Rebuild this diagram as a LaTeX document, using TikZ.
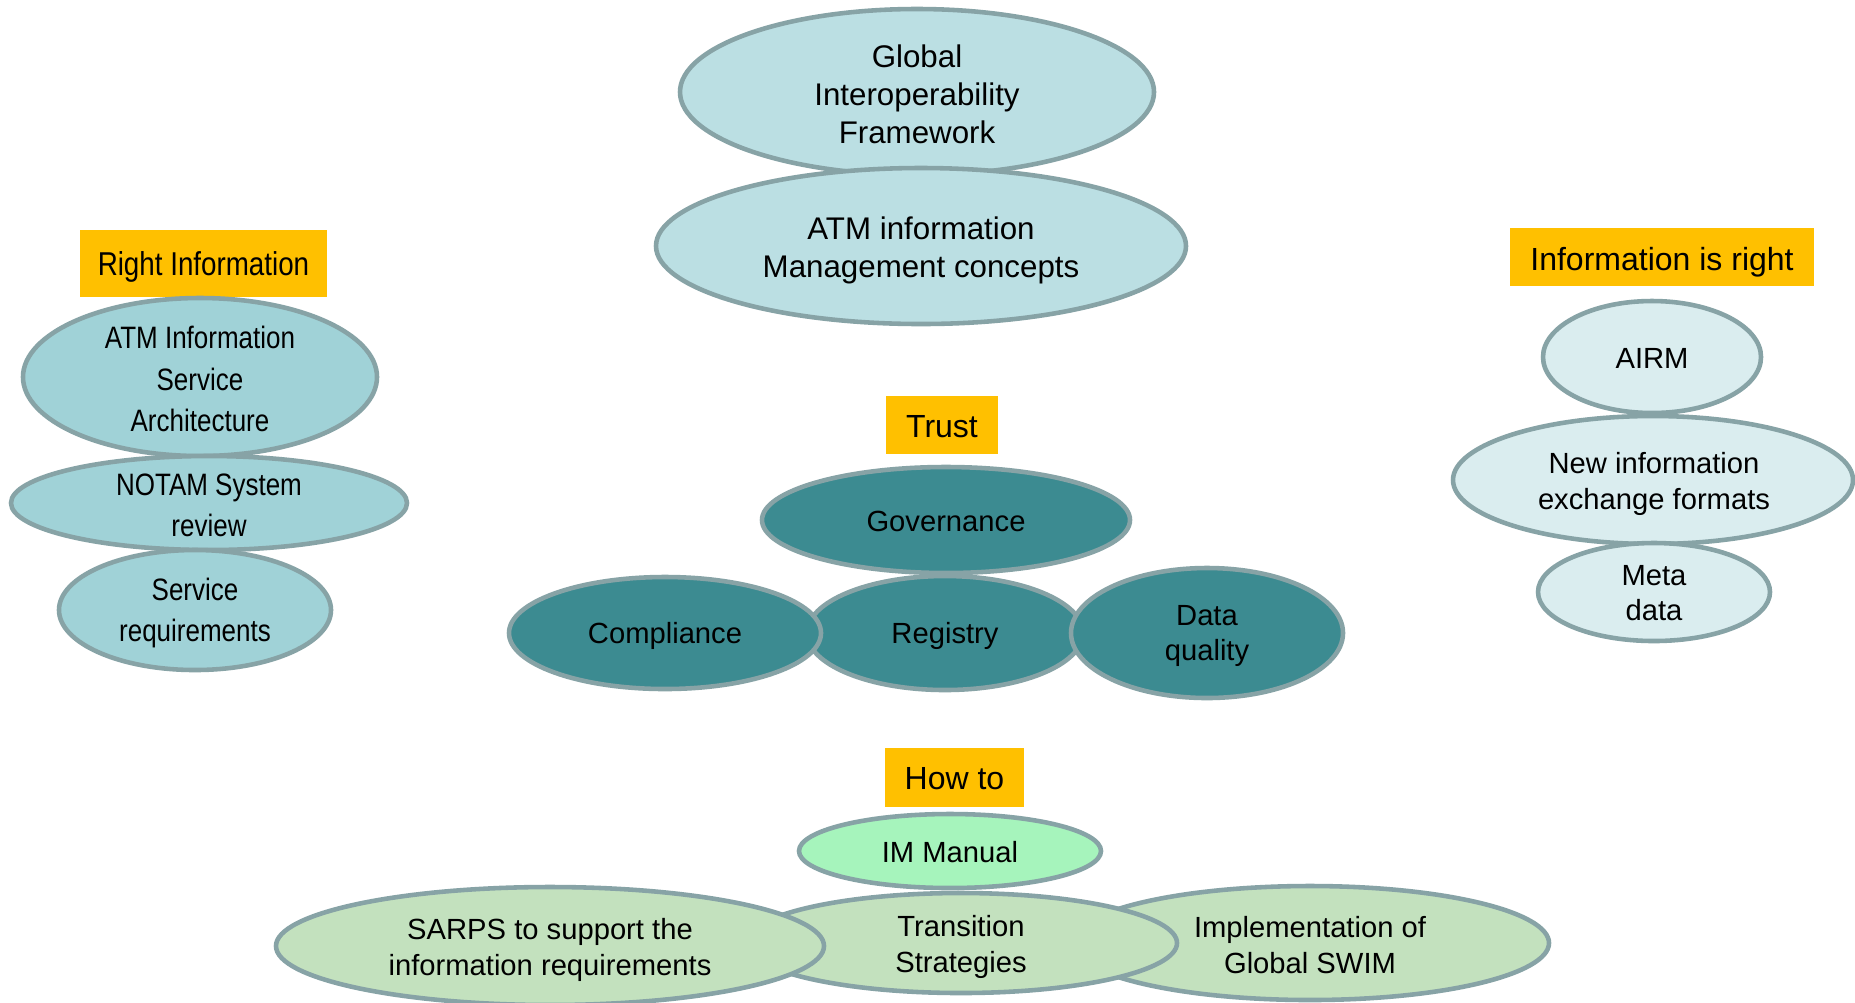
\documentclass[tikz,border=0pt]{standalone}
\usepackage{fontspec}
\setmainfont{Liberation Sans}
\newfontfamily\narrowfont[FakeStretch=0.84]{Liberation Sans}
\usetikzlibrary{shapes.geometric}
\definecolor{edgegray}{HTML}{87A3A6}
\definecolor{topfill}{HTML}{BBDFE3}
\definecolor{leftfill}{HTML}{A0D2D7}
\definecolor{darkteal}{HTML}{3C8B91}
\definecolor{rightfill}{HTML}{DAEDEF}
\definecolor{mintfill}{HTML}{A6F4BC}
\definecolor{greenfill}{HTML}{C3E1BE}
\definecolor{tagorange}{HTML}{FFC000}
\tikzset{
  ell/.style={ellipse, draw=edgegray, line width=1.3pt, inner sep=0pt, outer sep=0pt},
  tag/.style={fill=tagorange, inner sep=0pt, outer sep=0pt},
  sz/.style 2 args={minimum width=#1*0.01cm, minimum height=#2*0.01cm},
  lbl/.style={align=center, inner sep=0pt, text=black},
  fbig/.style={font=\fontsize{8.9}{10.8}\selectfont},
  fmid/.style={font=\fontsize{8.3}{10.1}\selectfont},
  ftag/.style={font=\fontsize{9.1}{10.8}\selectfont},
  fnar/.style={font=\narrowfont\fontsize{8.8}{11.7}\selectfont},
  fnartag/.style={font=\narrowfont\fontsize{9.4}{11.7}\selectfont},
}
\begin{document}
\begin{tikzpicture}[x=0.01cm,y=-0.01cm]
\useasboundingbox[fill=white] (0,0) rectangle (1855,1002);

% ---- top group
\node[ell, fill=topfill, sz={474}{166}] (gif) at (917,92) {};
\node[ell, fill=topfill, sz={530}{156}] (atmm) at (921,246) {};
\node[lbl, fbig] (tgif) at (917,94) {Global\\Interoperability\\Framework};
\node[lbl, fbig] (tatmm) at (921,250) {ATM information\\Management concepts};

% ---- left group
\node[tag, sz={247}{67}] (rinf) at (203.5,263.5) {};
\node[lbl, fnartag] (trinf) at (203.5,267) {Right Information};
\node[ell, fill=leftfill, sz={354}{158}] (aisa) at (200,377) {};
\node[ell, fill=leftfill, sz={396}{94}] (notam) at (209,503) {};
\node[ell, fill=leftfill, sz={272}{120}] (sreq) at (195,610) {};
\node[lbl, fnar] (taisa) at (200,379) {ATM Information\\Service\\Architecture};
\node[lbl, fnar] (tnotam) at (209,505) {NOTAM System\\review};
\node[lbl, fnar] (tsreq) at (195,613) {Service\\requirements};

% ---- trust group
\node[tag, sz={112}{58}] (trust) at (942,425) {};
\node[lbl, ftag] (ttrust) at (942,427) {Trust};
\node[ell, fill=darkteal, sz={368}{106}] (gov) at (946,520) {};
\node[ell, fill=darkteal, sz={276}{114}] (reg) at (945,633) {};
\node[ell, fill=darkteal, sz={312}{112}] (comp) at (665,633) {};
\node[ell, fill=darkteal, sz={272}{130}] (dq) at (1207,633) {};
\node[lbl, fmid] (tgov) at (946,521) {Governance};
\node[lbl, fmid] (tcomp) at (665,636) {Compliance};
\node[lbl, fmid] (treg) at (945,636) {Registry};
\node[lbl, fmid] (tdq) at (1207,636) {Data\\quality};

% ---- right group
\node[tag, sz={304}{58}] (iir) at (1662,257) {};
\node[lbl, ftag] (tiir) at (1662,262) {Information is right};
\node[ell, fill=rightfill, sz={218}{112}] (airm) at (1652,357) {};
\node[ell, fill=rightfill, sz={400}{128}] (newi) at (1653,480) {};
\node[ell, fill=rightfill, sz={232}{98}] (meta) at (1654,592) {};
\node[lbl, fmid] (tairm) at (1652,358) {AIRM};
\node[lbl, fmid] (tnewi) at (1654,484) {New information\\exchange formats};
\node[lbl, fmid] (tmeta) at (1654,593) {Meta\\data};

% ---- bottom group
\node[tag, sz={139}{59}] (howto) at (954.5,777.5) {};
\node[lbl, ftag] (thowto) at (954.5,779) {How to};
\node[ell, fill=mintfill, sz={302}{74}] (imm) at (950,851) {};
\node[lbl, fmid] (timm) at (950,852) {IM Manual};
\node[ell, fill=greenfill, sz={478}{114}] (impl) at (1310,943) {};
\node[ell, fill=greenfill, sz={432}{100}] (trans) at (961,943) {};
\node[ell, fill=greenfill, sz={548}{118}] (sarps) at (550,946) {};
\node[lbl, fmid] (timpl) at (1310,945) {Implementation of\\Global SWIM};
\node[lbl, fmid] (ttrans) at (961,947) {Transition\\Strategies};
\node[lbl, fmid] (tsarps) at (550,950) {SARPS to support the\\information requirements};
\end{tikzpicture}
\end{document}
